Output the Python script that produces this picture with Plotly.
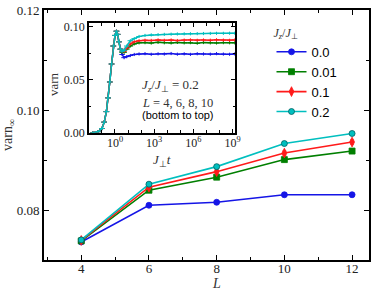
import plotly.graph_objects as go

# ---- main panel data ----
L_vals = [4, 6, 8, 10, 12]
ratio_labels = ["0.0", "0.01", "0.1", "0.2"]
var_00 = [0.0738, 0.0811, 0.0817, 0.0832, 0.0832]
var_001 = [0.0740, 0.0841, 0.0867, 0.0902, 0.0919]
var_01 = [0.0741, 0.0847, 0.0878, 0.0915, 0.0937]
var_02 = [0.0742, 0.0853, 0.0888, 0.0934, 0.0954]
err_main = [0.0002, 0.0003, 0.0003, 0.0004, 0.0004]

# ---- inset data (Jz/J = 0.2, L = 4,6,8,10) ----
t_inset = [0.02, 0.05, 0.1, 0.15, 0.22, 0.3, 0.4, 0.55, 0.75, 1.0, 1.3, 1.6, 2.0, 2.6, 3.5,
           5, 8, 15, 30, 70, 200, 600, 2e3, 6e3, 2e4, 6e4, 2e5, 6e5, 2e6, 6e6, 2e7, 6e7, 2e8, 6e8, 1.5e9]
var_L4 = [0.0, 0.001, 0.004, 0.010, 0.020, 0.033, 0.048, 0.065, 0.082, 0.092, 0.096, 0.093, 0.086, 0.079, 0.074,
          0.071, 0.072, 0.073, 0.0740, 0.0745, 0.0748, 0.0742, 0.0746, 0.0744, 0.0749, 0.0743, 0.0746, 0.0741, 0.0747, 0.0745, 0.0743, 0.0748, 0.0744, 0.0742, 0.0745]
var_L6 = [0.0, 0.001, 0.004, 0.010, 0.020, 0.033, 0.048, 0.065, 0.082, 0.092, 0.096, 0.093, 0.086, 0.079, 0.076,
          0.076, 0.079, 0.082, 0.0840, 0.0850, 0.0852, 0.0848, 0.0855, 0.0851, 0.0849, 0.0854, 0.0850, 0.0852, 0.0847, 0.0853, 0.0850, 0.0849, 0.0852, 0.0851, 0.0850]
var_L8 = [0.0, 0.001, 0.004, 0.010, 0.020, 0.033, 0.048, 0.065, 0.082, 0.092, 0.096, 0.093, 0.086, 0.079, 0.077,
          0.077, 0.080, 0.084, 0.0860, 0.0870, 0.0875, 0.0873, 0.0878, 0.0874, 0.0877, 0.0872, 0.0876, 0.0878, 0.0874, 0.0877, 0.0875, 0.0879, 0.0876, 0.0874, 0.0877]
var_L10 = [0.0, 0.001, 0.004, 0.010, 0.020, 0.033, 0.048, 0.065, 0.082, 0.092, 0.096, 0.093, 0.086, 0.079, 0.077,
           0.078, 0.082, 0.087, 0.0890, 0.0910, 0.0920, 0.0925, 0.0928, 0.0930, 0.0932, 0.0934, 0.0935, 0.0936, 0.0937, 0.0938, 0.0939, 0.0940, 0.0940, 0.0941, 0.0941]
err_inset = 0.0015

inset_xticks = [1, 1e3, 1e6, 1e9]
inset_xtick_text = ["10<sup>0</sup>", "10<sup>3</sup>", "10<sup>6</sup>", "10<sup>9</sup>"]

colors = ["#1515e6", "#007f00", "#ff1a1a", "#00bfbf"]
symbols = ["circle", "square", "diamond-tall", "circle"]
serif = "Liberation Serif"
sans = "Liberation Sans"

fig = go.Figure()

main_series = [var_00, var_001, var_01, var_02]
for name, ys, c, s in zip(ratio_labels, main_series, colors, symbols):
    fig.add_trace(go.Scatter(
        x=L_vals, y=ys, name=name, mode="lines+markers",
        line=dict(color=c, width=1.6),
        marker=dict(symbol=s, size=6 if s != "diamond-tall" else 7, color=c,
                    line=dict(color="#005f5f" if c == "#00bfbf" else c, width=0.8)),
        error_y=dict(type="data", array=err_main, color=c, thickness=1, width=2),
        xaxis="x", yaxis="y"))

inset_series = [var_L4, var_L6, var_L8, var_L10]
for ys, c in zip(inset_series, colors):
    fig.add_trace(go.Scatter(
        x=t_inset, y=ys, mode="lines+markers", showlegend=False,
        line=dict(color=c, width=1.5),
        marker=dict(symbol="line-ew", size=4, line=dict(color=c, width=1)),
        error_y=dict(type="constant", value=err_inset, color=c, thickness=1, width=0),
        xaxis="x2", yaxis="y2"))

axis_common = dict(showline=True, linecolor="black", mirror="allticks", ticks="inside",
                   tickcolor="black", showgrid=False, zeroline=False, automargin=False)

fig.update_layout(
    width=374, height=292,
    margin=dict(l=44, r=5, t=10, b=32),
    paper_bgcolor="white", plot_bgcolor="white",
    font=dict(family=serif, size=13, color="#222"),
    xaxis=dict(**axis_common, range=[2.9, 12.5], tickvals=L_vals, ticklen=5, tickwidth=1.2,
               linewidth=2, minor=dict(dtick=1, tick0=0, ticks="inside", ticklen=3, tickcolor="black"),
               tickfont=dict(family=serif, size=13), ticklabelstandoff=-5),
    yaxis=dict(**axis_common, range=[0.0702, 0.12], tickvals=[0.08, 0.10, 0.12], tickformat=".2f",
               ticklen=5, tickwidth=1.2, linewidth=2,
               minor=dict(dtick=0.01, tick0=0, ticks="inside", ticklen=3, tickcolor="black"),
               tickfont=dict(family=serif, size=13)),
    xaxis2=dict(**axis_common, type="log", domain=[0.138, 0.588], anchor="y2", range=[-2, 9.2],
                tickvals=inset_xticks, ticktext=inset_xtick_text, ticklen=4, linewidth=1.5,
                minor=dict(tickvals=[1e-1, 1e1, 1e2, 1e4, 1e5, 1e7, 1e8], ticks="inside", ticklen=3, tickcolor="black"),
                tickfont=dict(family=serif, size=12), ticklabelstandoff=-2),
    yaxis2=dict(**axis_common, domain=[0.509, 0.949], anchor="x2", range=[0, 0.104],
                tickvals=[0, 0.05, 0.10], tickformat=".2f", ticklen=4, linewidth=1.5,
                minor=dict(dtick=0.025, ticks="inside", ticklen=2.5, tickcolor="black"),
                tickfont=dict(family=serif, size=12)),
    legend=dict(x=0.7, y=0.955, xanchor="left", yanchor="top", bgcolor="rgba(0,0,0,0)",
                font=dict(family=sans, size=13, color="black"), tracegroupgap=0,
                title=dict(text="<i>J<sub>z</sub></i>/<i>J</i><sub>⊥</sub>", side="top",
                           font=dict(family=serif, size=12, color="#333"))),
    showlegend=True,
)

def note(text, x, y, size, family=serif, angle=0, xanchor="center", color="#333"):
    fig.add_annotation(text=text, xref="paper", yref="paper", x=x, y=y, xanchor=xanchor,
                       yanchor="middle", textangle=angle, showarrow=False,
                       font=dict(family=family, size=size, color=color))

note("varn<sub>∞</sub>", -0.111, 0.50, 14, angle=-90)
note("<i>L</i>", 0.53, -0.094, 14)
note("varn", 0.028, 0.704, 13, angle=-90)
note("<i>J</i><sub>⊥</sub><i>t</i>", 0.363, 0.398, 13)
note("<i>J<sub>z</sub></i>/<i>J</i><sub>⊥</sub> = 0.2", 0.295, 0.70, 13, xanchor="left")
note("<i>L</i> = 4, 6, 8, 10", 0.295, 0.63, 12.5, xanchor="left")
note("(bottom to top)", 0.295, 0.582, 11, family=sans, xanchor="left", color="black")

fig.write_html("out.html", post_script="document.body.style.margin='0px';",
               config={"displayModeBar": False})
